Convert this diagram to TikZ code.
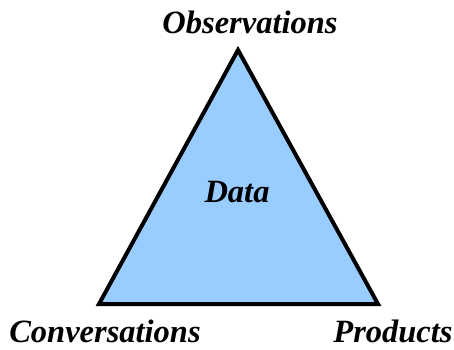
\documentclass[tikz,border=0pt]{standalone}
\usepackage{fontspec}
\setmainfont{Liberation Serif}
\usetikzlibrary{positioning}
\definecolor{databg}{HTML}{99CCFF}
\tikzset{lbl/.style={font=\fontsize{32.5}{36}\selectfont\bfseries\itshape, anchor=base, inner sep=0pt}}

\begin{document}
\begin{tikzpicture}[x=1pt,y=1pt]
    \useasboundingbox (0,0) rectangle (454,349);
    \coordinate (top) at (238,299);
    \coordinate (left) at (99,45);
    \coordinate (right) at (378,45);
    \draw[line width=4pt, line join=miter, fill=databg] (top) -- (left) -- (right) -- cycle;
    \node[lbl] (obs) at (250,316) {Observations};
    \node[lbl] (data) at (237,147) {Data};
    \node[lbl] (conv) at (105,7) {Conversations};
    \node[lbl] (prod) at (393,7) {Products};
    \end{tikzpicture}
\end{document}
